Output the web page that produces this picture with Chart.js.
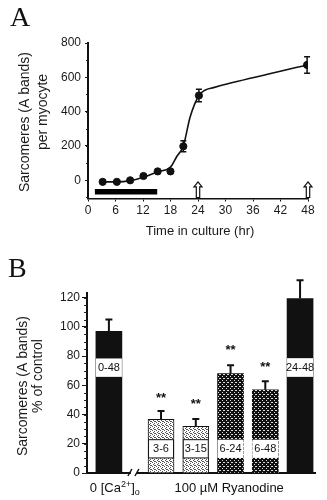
<!DOCTYPE html>
<html>
<head>
<meta charset="utf-8">
<script src="https://cdn.jsdelivr.net/npm/chart.js@4"></script>
<style>
  body { margin: 0; background: #fff; }
  canvas { position: absolute; left: 0; }
  #chartA { top: 0; }
  #chartB { top: 250px; }
</style>
</head>
<body>
<canvas id="chartA" width="327" height="250"></canvas>
<canvas id="chartB" width="327" height="250"></canvas>
<script>
// ---- panel A: sarcomeres per myocyte vs time ----
const hours = [3.2, 6.3, 9.2, 12.1, 15.2, 18.0, 20.8, 24.2, 47.8];
const sarcomeres = [-9, -9, 0, 25, 52, 52, 198, 494, 672];
const sarcomereErr = [0, 0, 0, 0, 0, 0, 32, 37, 48];
const fitHours = [3.2, 6.3, 9.2, 12.1, 15.2, 18.0, 19.4, 20.8, 22.3, 24.2, 25.5, 27.4, 30.3, 47.8];
const fitValues = [-9, -9, -2, 18, 50, 77, 140, 200, 370, 494, 525, 540, 561, 672];
const ryanodinePeriod = [1.5, 15.1];
const ryanodineLevel = [-67, -67];
const arrowHours = [24, 48];
const hourTicks = [0, 6, 12, 18, 24, 30, 36, 42, 48];
const countTicks = [0, 200, 400, 600, 800];

// ---- panel B: % of control ----
const groupPos = [0, 1.5, 2.5, 3.5, 4.5, 5.5];
const percentControl = [97, 36.7, 32, 68, 57, 119.4];
const percentErr = [8, 5.8, 4.9, 5.7, 5.8, 12.6];
const periodLabels = ['0-48', '3-6', '3-15', '6-24', '6-48', '24-48'];
const bandLow = [65.8, 10.3, 10.3, 10.3, 10.3, 65.8];
const bandHigh = [78.4, 22.8, 22.8, 22.8, 22.8, 78.6];
const stars = ['', '**', '**', '**', '**', ''];
const starLevel = [0, 53, 49, 86, 74, 0];
const percentTicks = [0, 20, 40, 60, 80, 100, 120];

const FONT = "'Liberation Sans', Arial, Helvetica, sans-serif";
Chart.defaults.font.family = FONT;
Chart.defaults.font.size = 12;
Chart.defaults.color = '#1a1a1a';

// fill patterns for the ryanodine bars
const makePattern = (bg, fg, dots) => {
  const c = document.createElement('canvas');
  c.width = 4; c.height = 4;
  const g = c.getContext('2d');
  g.fillStyle = bg; g.fillRect(0, 0, 4, 4);
  g.fillStyle = fg;
  dots.forEach(d => g.fillRect(d[0], d[1], 1, 1));
  return g.createPattern(c, 'repeat');
}
const ctxB = document.getElementById('chartB').getContext('2d');
const lightFill = makePattern('#fff', '#555', [[0,0],[2,1],[1,2],[3,3],[2,3]]);
const darkFill = makePattern('#111', '#ddd', [[0,0],[2,2],[3,0]]);
const barFills = ['#111', lightFill, lightFill, darkFill, darkFill, '#111'];
const barBorders = [0, 1, 1, 0, 0, 0];

const fixedTicks = list => scale => { scale.ticks = list.map(v => ({ value: v })); };

const panelLetter = (letter, x, y) => ({
  id: 'letter' + letter,
  afterDraw(chart) {
    const ctx = chart.ctx;
    ctx.save();
    ctx.font = "28px 'Liberation Serif', 'Times New Roman', serif";
    ctx.fillStyle = '#111';
    ctx.textBaseline = 'alphabetic';
    ctx.fillText(letter, x, y);
    ctx.restore();
  }
});

const yTitle = (lines, xs, ys) => ({
  id: 'ytitle',
  afterDraw(chart) {
    const ctx = chart.ctx;
    ctx.save();
    ctx.font = '14px ' + FONT;
    ctx.fillStyle = '#1a1a1a';
    ctx.textAlign = 'center';
    ctx.textBaseline = 'middle';
    lines.forEach((t, i) => {
      ctx.save();
      ctx.translate(xs[i], ys[i]);
      ctx.rotate(-Math.PI / 2);
      ctx.fillText(t, 0, 0);
      ctx.restore();
    });
    ctx.restore();
  }
});

const minorTicks = (step, len) => ({
  id: 'minor',
  afterDraw(chart) {
    const y = chart.scales.y, ctx = chart.ctx;
    ctx.save();
    ctx.strokeStyle = '#222';
    ctx.lineWidth = 1;
    for (let v = Math.ceil(y.min / step) * step; v <= y.max; v += step) {
      const py = Math.round(y.getPixelForValue(v)) + 0.5;
      ctx.beginPath();
      ctx.moveTo(y.right - len, py);
      ctx.lineTo(y.right, py);
      ctx.stroke();
    }
    ctx.restore();
  }
});

/* panel A extras: error bars and open arrows */
const panelAExtras = {
  id: 'aextras',
  afterDatasetsDraw(chart) {
    const ctx = chart.ctx, xs = chart.scales.x, ys = chart.scales.y;
    ctx.save();
    ctx.strokeStyle = '#111';
    ctx.lineWidth = 1.5;
    hours.forEach((h, i) => {
      if (!sarcomereErr[i]) return;
      const px = xs.getPixelForValue(h);
      const top = ys.getPixelForValue(sarcomeres[i] + sarcomereErr[i]);
      const bot = ys.getPixelForValue(sarcomeres[i] - sarcomereErr[i]);
      ctx.beginPath();
      ctx.moveTo(px, top); ctx.lineTo(px, bot);
      ctx.moveTo(px - 3, top); ctx.lineTo(px + 3, top);
      ctx.moveTo(px - 3, bot); ctx.lineTo(px + 3, bot);
      ctx.stroke();
    });
    // open arrows rising from the time axis
    const base = chart.chartArea.bottom - 1;
    const tip = ys.getPixelForValue(-9);
    ctx.lineWidth = 1.2;
    ctx.fillStyle = '#fff';
    arrowHours.forEach(h => {
      const px = xs.getPixelForValue(h);
      ctx.beginPath();
      ctx.moveTo(px, tip);
      ctx.lineTo(px + 4, tip + 5);
      ctx.lineTo(px + 1.7, tip + 5);
      ctx.lineTo(px + 1.7, base);
      ctx.lineTo(px - 1.7, base);
      ctx.lineTo(px - 1.7, tip + 5);
      ctx.lineTo(px - 4, tip + 5);
      ctx.closePath();
      ctx.fill();
      ctx.stroke();
    });
    ctx.restore();
  }
};

new Chart(document.getElementById('chartA'), {
  type: 'scatter',
  data: {
    datasets: [{
      data: hours.map((h, i) => ({ x: h, y: sarcomeres[i] })),
      backgroundColor: '#111',
      borderColor: '#111',
      pointRadius: 3.6
    }, {
      type: 'line',
      data: fitHours.map((h, i) => ({ x: h, y: fitValues[i] })),
      borderColor: '#111',
      borderWidth: 1.6,
      pointRadius: 0,
      cubicInterpolationMode: 'monotone',
      fill: false
    }, {
      type: 'line',
      data: ryanodinePeriod.map((h, i) => ({ x: h, y: ryanodineLevel[i] })),
      borderColor: '#000',
      borderWidth: 5.5,
      borderCapStyle: 'butt',
      pointRadius: 0,
      fill: false
    }]
  },
  options: {
    responsive: false,
    animation: false,
    layout: { padding: { top: 43, right: 19, left: 0, bottom: 0 } },
    plugins: { legend: { display: false }, tooltip: { enabled: false } },
    scales: {
      x: {
        type: 'linear', min: 0, max: 48,
        afterBuildTicks: fixedTicks(hourTicks),
        afterFit: s => { s.height = 51.5; },
        grid: { drawOnChartArea: false, tickLength: 3, color: '#111' },
        border: { color: '#111', width: 1.6 },
        ticks: { padding: 2, font: { size: 12 } }
      },
      y: {
        min: -106, max: 800,
        afterBuildTicks: fixedTicks(countTicks),
        afterFit: s => { s.width = 88; },
        grid: { drawOnChartArea: false, tickLength: 3, color: '#111' },
        border: { color: '#111', width: 2 },
        ticks: { padding: 4, font: { size: 12 } }
      }
    }
  },
  plugins: [panelAExtras, minorTicks(100, 2), panelLetter('A', 10, 26),
    yTitle(['Sarcomeres (A bands)', 'per myocyte'], [25, 43], [122, 112]),
    {
      id: 'xtitle',
      afterDraw(chart) {
        const ctx = chart.ctx;
        ctx.save();
        ctx.font = '13px ' + FONT;
        ctx.fillStyle = '#1a1a1a';
        ctx.textAlign = 'center';
        ctx.textBaseline = 'middle';
        ctx.fillText('Time in culture (hr)', 200, 231);
        ctx.restore();
      }
    }]
});

/* panel B extras: white period bands, whiskers, stars, axis break, group labels */
const panelBExtras = {
  id: 'bextras',
  afterDatasetsDraw(chart) {
    const ctx = chart.ctx, xs = chart.scales.x, ys = chart.scales.y;
    const bars = chart.getDatasetMeta(0).data;
    ctx.save();
    bars.forEach((bar, i) => {
      const half = bar.width / 2;
      const hi = ys.getPixelForValue(bandHigh[i]);
      const lo = ys.getPixelForValue(bandLow[i]);
      ctx.fillStyle = '#fff';
      ctx.fillRect(bar.x - half, hi, half * 2, lo - hi);
      if (barBorders[i]) {
        ctx.strokeStyle = '#111';
        ctx.lineWidth = 1;
        ctx.strokeRect(bar.x - half + 0.5, hi, half * 2 - 1, lo - hi);
      }
      ctx.fillStyle = '#111';
      ctx.font = '11px ' + FONT;
      ctx.textAlign = 'center';
      ctx.textBaseline = 'middle';
      ctx.fillText(periodLabels[i], bar.x, (hi + lo) / 2 + 0.5);
      // upper whisker
      const top = ys.getPixelForValue(percentControl[i]);
      const cap = ys.getPixelForValue(percentControl[i] + percentErr[i]);
      ctx.strokeStyle = '#111';
      ctx.lineWidth = 2;
      ctx.beginPath();
      ctx.moveTo(bar.x, top); ctx.lineTo(bar.x, cap);
      ctx.moveTo(bar.x - 3.5, cap); ctx.lineTo(bar.x + 3.5, cap);
      ctx.stroke();
      if (stars[i]) {
        ctx.font = 'bold 13px ' + FONT;
        ctx.fillText(stars[i], bar.x, ys.getPixelForValue(starLevel[i]) + 3);
      }
    });
    ctx.restore();
  },
  afterDraw(chart) {
    const ctx = chart.ctx, xs = chart.scales.x;
    const axisY = chart.chartArea.bottom;
    const bx = xs.getPixelForValue(0.72);
    ctx.save();
    // axis break
    ctx.fillStyle = '#fff';
    ctx.fillRect(bx - 3, axisY - 2, 6, 4);
    ctx.strokeStyle = '#111';
    ctx.lineWidth = 1.5;
    ctx.beginPath();
    ctx.moveTo(bx - 6, axisY + 3); ctx.lineTo(bx - 2, axisY - 4);
    ctx.moveTo(bx + 1, axisY + 3); ctx.lineTo(bx + 5, axisY - 4);
    ctx.stroke();
    // group labels under the axis
    const baseY = 242;
    ctx.fillStyle = '#111';
    ctx.textBaseline = 'alphabetic';
    ctx.textAlign = 'left';
    const parts = [['0 [Ca', 13, 0], ['2+', 9, -5], [']', 13, 0], ['o', 9, 3]];
    let total = 0;
    parts.forEach(p => { ctx.font = p[1] + 'px ' + FONT; total += ctx.measureText(p[0]).width; });
    let x = xs.getPixelForValue(0.17) - total / 2;
    parts.forEach(p => {
      ctx.font = p[1] + 'px ' + FONT;
      ctx.fillText(p[0], x, baseY + p[2]);
      x += ctx.measureText(p[0]).width;
    });
    ctx.font = '13px ' + FONT;
    ctx.textAlign = 'center';
    ctx.fillText('100 \u00b5M Ryanodine', xs.getPixelForValue(3.46), baseY);
    ctx.restore();
  }
};

new Chart(ctxB, {
  type: 'bar',
  data: {
    datasets: [{
      data: groupPos.map((p, i) => ({ x: p, y: percentControl[i] })),
      backgroundColor: barFills,
      borderColor: '#111',
      borderWidth: barBorders,
      borderSkipped: 'bottom',
      barThickness: 26
    }]
  },
  options: {
    responsive: false,
    animation: false,
    layout: { autoPadding: false, padding: { top: 43, right: 12, left: 0, bottom: 0 } },
    plugins: { legend: { display: false }, tooltip: { enabled: false } },
    scales: {
      x: {
        type: 'linear', min: -0.63, max: 5.93,
        offset: false,
        afterFit: s => { s.height = 27; s.paddingLeft = 0; s.paddingRight = 0; },
        grid: { display: false, offset: false },
        border: { color: '#111', width: 2 },
        ticks: { display: false }
      },
      y: {
        min: 0, max: 123.2,
        afterBuildTicks: fixedTicks(percentTicks),
        afterFit: s => { s.width = 87; },
        grid: { drawOnChartArea: false, tickLength: 5, color: '#111' },
        border: { color: '#111', width: 2 },
        ticks: { padding: 2, font: { size: 12 } }
      }
    }
  },
  plugins: [panelBExtras, minorTicks(5, 3), panelLetter('B', 8, 27),
    yTitle(['Sarcomeres (A bands)', '% of control'], [23, 38], [136, 126])]
});
</script>
</body>
</html>
